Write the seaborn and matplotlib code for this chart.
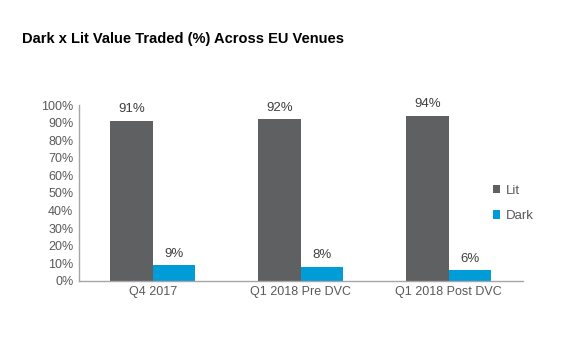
import matplotlib
matplotlib.use("Agg")
import matplotlib.pyplot as plt
import seaborn as sns
import pandas as pd

categories = ["Q4 2017", "Q1 2018 Pre DVC", "Q1 2018 Post DVC"]
lit = [91, 92, 94]
dark = [9, 8, 6]
series = ["Lit", "Dark"]
colors = {"Lit": "#5f6062", "Dark": "#009cd8"}

df = pd.DataFrame({
    "Period": categories * 2,
    "Share": lit + dark,
    "Type": ["Lit"] * len(categories) + ["Dark"] * len(categories),
})

sns.set_theme(style="white")
plt.rcParams["font.family"] = ["Liberation Sans", "DejaVu Sans"]

fig = plt.figure(figsize=(5.64, 3.38), dpi=100)
ax = fig.add_axes([0.140, 0.169, 0.787, 0.520])

sns.barplot(data=df, x="Period", y="Share", hue="Type", hue_order=series,
            order=categories, palette=colors, width=0.575, saturation=1,
            linewidth=0, edgecolor="none", ax=ax, legend=True)

for cont in ax.containers:
    ax.bar_label(cont, labels=[f"{v:.0f}%" for v in cont.datavalues],
                 padding=4, fontsize=9.5, color="#404040")

ax.set_ylim(0, 100)
ax.set_yticks(range(0, 101, 10))
ax.set_yticklabels([f"{t}%" for t in range(0, 101, 10)])
ax.set_xlim(-0.5, 2.5)
ax.set_xlabel("")
ax.set_ylabel("")
ax.tick_params(axis="both", labelsize=9, colors="#595959", length=0, pad=4)
for s in ["top", "right"]:
    ax.spines[s].set_visible(False)
for s in ["left", "bottom"]:
    ax.spines[s].set_color("#a6a6a6")
    ax.spines[s].set_linewidth(1)

leg = ax.legend(loc="center left", bbox_to_anchor=(0.905, 0.44), frameon=False,
                fontsize=9.5, handlelength=0.6, handleheight=0.6,
                handletextpad=0.4, labelspacing=1.0)
for t in leg.get_texts():
    t.set_color("#595959")

fig.text(0.039, 0.885, "Dark x Lit Value Traded (%) Across EU Venues",
         fontsize=10.5, fontweight="bold", color="black", ha="left", va="center")

fig.savefig("out.png", dpi=100, facecolor="white")
